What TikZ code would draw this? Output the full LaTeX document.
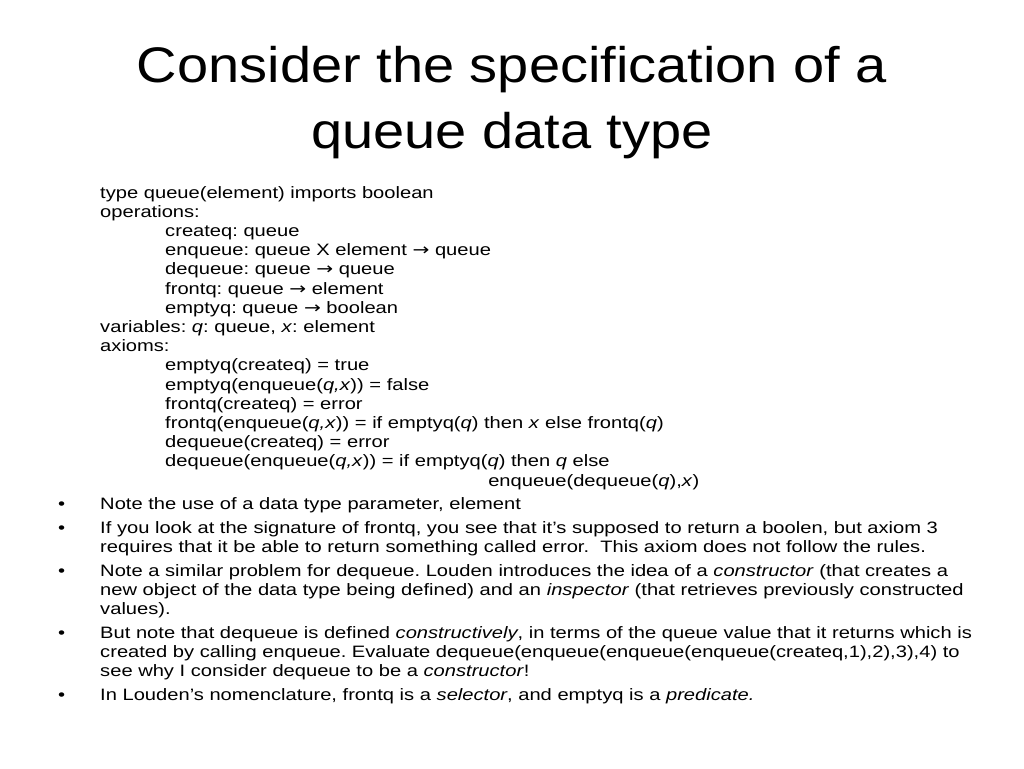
\documentclass[tikz,border=0pt]{standalone}
\usepackage{fontspec}
\setmainfont{Liberation Sans}
\newfontfamily\arr{DejaVu Sans}
\newcommand\ra{{\arr →}}
\frenchspacing
\begin{document}
\begin{tikzpicture}[x=1pt,y=-1pt,
  ln/.style={anchor=base west,inner sep=0pt,xscale=1.22,font=\fontsize{16.5}{19}\selectfont},
  tl/.style={anchor=base,inner sep=0pt,xscale=1.12,font=\fontsize{50}{58}\selectfont}]
\useasboundingbox (0,0) rectangle (1024,768);
\node[tl] (t1) at (512,82) {Consider the specification of a};
\node[tl] (t2) at (512,148) {queue data type};
\def\a{100}\def\b{165}
\node[ln] (l1) at (\a,198) {type queue(element) imports boolean};
\node[ln] (l2) at (\a,217.2) {operations:};
\node[ln] (l3) at (\b,236.4) {createq: queue};
\node[ln] (l4) at (\b,255.6) {enqueue: queue X element \ra{} queue};
\node[ln] (l5) at (\b,274.8) {dequeue: queue \ra{} queue};
\node[ln] (l6) at (\b,294) {frontq: queue \ra{} element};
\node[ln] (l7) at (\b,313.2) {emptyq: queue \ra{} boolean};
\node[ln] (l8) at (\a,332.4) {variables: \textit{q}: queue, \textit{x}: element};
\node[ln] (l9) at (\a,351.6) {axioms:};
\node[ln] (l10) at (\b,370.8) {emptyq(createq) = true};
\node[ln] (l11) at (\b,390) {emptyq(enqueue(\textit{q,x})) = false};
\node[ln] (l12) at (\b,409.2) {frontq(createq) = error};
\node[ln] (l13) at (\b,428.4) {frontq(enqueue(\textit{q,x})) = if emptyq(\textit{q}) then \textit{x} else frontq(\textit{q})};
\node[ln] (l14) at (\b,447.6) {dequeue(createq) = error};
\node[ln] (l15) at (\b,466.8) {dequeue(enqueue(\textit{q,x})) = if emptyq(\textit{q}) then \textit{q} else};
\node[ln] (l16) at (488,486) {enqueue(dequeue(\textit{q}),\textit{x})};
\def\bx{58}
\foreach \y in {509,533,576,638,700} \node[ln] at (\bx,\y) {•};
\node[ln] (b1) at (\a,509) {Note the use of a data type parameter, element};
\node[ln] (b2) at (\a,533) {If you look at the signature of frontq, you see that it’s supposed to return a boolen, but axiom 3};
\node[ln] (b2b) at (\a,552.2) {requires that it be able to return something called error.\ \ This axiom does not follow the rules.};
\node[ln] (b3) at (\a,576) {Note a similar problem for dequeue. Louden introduces the idea of a \textit{constructor} (that creates a};
\node[ln] (b3b) at (\a,595.2) {new object of the data type being defined) and an \textit{inspector} (that retrieves previously constructed};
\node[ln] (b3c) at (\a,614.4) {values).};
\node[ln] (b4) at (\a,638) {But note that dequeue is defined \textit{constructively}, in terms of the queue value that it returns which is};
\node[ln] (b4b) at (\a,657.2) {created by calling enqueue. Evaluate dequeue(enqueue(enqueue(enqueue(createq,1),2),3),4) to};
\node[ln] (b4c) at (\a,676.4) {see why I consider dequeue to be a \textit{constructor}!};
\node[ln] (b5) at (\a,700) {In Louden’s nomenclature, frontq is a \textit{selector}, and emptyq is a \textit{predicate.}};
\end{tikzpicture}
\end{document}
